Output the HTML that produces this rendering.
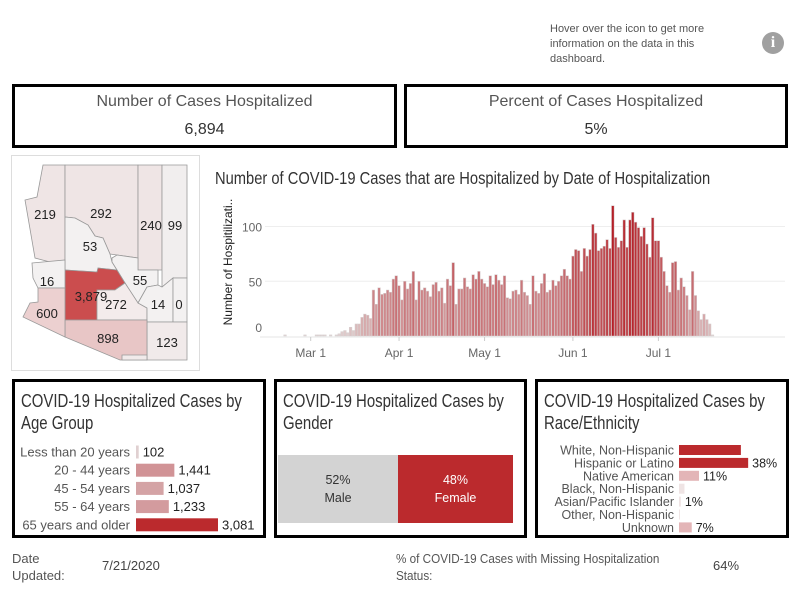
<!DOCTYPE html>
<html><head><meta charset="utf-8">
<style>
*{box-sizing:border-box;margin:0;padding:0}
body{width:800px;height:600px;background:#fff;font-family:"Liberation Sans",sans-serif;color:#333;position:relative;overflow:hidden}
.abs{position:absolute}
.box{position:absolute;border:3px solid #000}
.kt{position:absolute;left:0;right:0;text-align:center;font-size:16px;color:#555}
.pt{position:absolute;left:6px;top:8px;font-size:18px;line-height:22px;color:#333;white-space:nowrap;transform:scaleX(0.83);transform-origin:left top}
</style></head><body>
<div class="abs" style="left:550px;top:22px;width:180px;font-size:11px;line-height:15px;color:#555">Hover over the icon to get more information on the data in this dashboard.</div>
<div class="abs" style="left:762px;top:32px;width:22px;height:22px;border-radius:50%;background:#a0a0a0;color:#fff;font:bold 16px 'Liberation Serif',serif;text-align:center;line-height:22px">i</div>

<div class="box" style="left:12px;top:84px;width:385px;height:64px">
<div class="kt" style="top:6px">Number of Cases Hospitalized</div>
<div class="kt" style="top:34px;color:#333">6,894</div></div>
<div class="box" style="left:404px;top:84px;width:384px;height:64px">
<div class="kt" style="top:6px">Percent of Cases Hospitalized</div>
<div class="kt" style="top:34px;color:#333">5%</div></div>

<svg class="abs" style="left:11px;top:155px" width="189" height="216" viewBox="11 155 189 216">
<rect x="11.5" y="155.5" width="188" height="215" fill="none" stroke="#ddd"/>
<g stroke="#999" stroke-width="0.8" font-family="Liberation Sans,sans-serif" font-size="13" fill="#222">
<polygon points="43,165 65,165 65,261 50,262 35,258 25,200 37,197" fill="#efe5e5"/>
<polygon points="65,165 138,165 138,258 117,255 110,254 103,238 95,236 88,225 75,218 65,217" fill="#efe5e5"/>
<polygon points="65,217 75,218 88,225 95,236 103,238 110,254 112,262 117,270 98,268 97,272 65,270" fill="#f3f1f1"/>
<polygon points="138,165 162,165 162,270 138,270" fill="#efe5e5"/>
<polygon points="162,165 187,165 187,278 173,278 162,287" fill="#f1eeee"/>
<polygon points="112,258 117,255 138,258 138,270 158,270 158,285 147,287 138,303 125,283 117,270 112,262" fill="#f3f1f1"/>
<polygon points="65,270 97,272 98,268 117,270 125,283 115,290 97,290 97,320 65,320" fill="#cb4d4e"/>
<polygon points="97,290 115,290 125,283 138,303 147,308 147,320 97,320" fill="#f3ebeb"/>
<polygon points="147,287 158,285 162,287 173,278 173,322 147,322 147,308 138,303" fill="#f3f1f1"/>
<polygon points="173,278 187,278 187,322 173,322" fill="#f3f1f1"/>
<polygon points="147,322 187,322 187,360 147,360" fill="#f1eaea"/>
<polygon points="65,320 147,320 147,360 120,360 65,337" fill="#e8c6c6"/>
<polygon points="122,355 147,355 147,360 122,360" fill="#f1eaea"/>
<polygon points="32,263 65,260 65,288 38,288 33,278" fill="#f3f1f1"/>
<polygon points="38,288 65,288 65,337 23,317 30,303 38,302" fill="#ecd0d0"/>
<g stroke="none">
<text x="45" y="219" text-anchor="middle">219</text><text x="101" y="218" text-anchor="middle">292</text>
<text x="90" y="251" text-anchor="middle">53</text><text x="151" y="230" text-anchor="middle">240</text>
<text x="175" y="230" text-anchor="middle">99</text><text x="140" y="285" text-anchor="middle">55</text>
<text x="47" y="286" text-anchor="middle">16</text><text x="91" y="301" text-anchor="middle">3,879</text>
<text x="116" y="309" text-anchor="middle">272</text><text x="158" y="309" text-anchor="middle">14</text>
<text x="179" y="309" text-anchor="middle">0</text><text x="47" y="318" text-anchor="middle">600</text>
<text x="108" y="343" text-anchor="middle">898</text><text x="167" y="347" text-anchor="middle">123</text>
</g></g></svg>

<div class="abs" style="left:215px;top:168px;font-size:17.5px;color:#333;white-space:nowrap;transform:scaleX(0.84);transform-origin:left top">Number of COVID-19 Cases that are Hospitalized by Date of Hospitalization</div>
<svg class="abs" id="dc" style="left:210px;top:195px" width="580" height="175"></svg>

<div class="box" style="left:12px;top:379px;width:254px;height:159px"><div class="pt">COVID-19 Hospitalized Cases by<br>Age Group</div></div>
<div class="box" style="left:274px;top:379px;width:253px;height:159px"><div class="pt">COVID-19 Hospitalized Cases by<br>Gender</div>
<div class="abs" style="left:1px;top:73px;width:120px;height:68px;background:#d3d3d3;text-align:center;font-size:12.5px;line-height:18px;padding-top:16px;color:#333">52%<br>Male</div>
<div class="abs" style="left:121px;top:73px;width:115px;height:68px;background:#bb2a2d;text-align:center;font-size:12.5px;line-height:18px;padding-top:16px;color:#fff">48%<br>Female</div></div>
<div class="box" style="left:535px;top:379px;width:254px;height:159px"><div class="pt">COVID-19 Hospitalized Cases by<br>Race/Ethnicity</div></div>
<svg class="abs" id="ac" style="left:15px;top:440px" width="248" height="95"></svg>
<svg class="abs" id="rc" style="left:538px;top:440px" width="248" height="95"></svg>

<div class="abs" style="left:12px;top:550px;font-size:13px;line-height:17px;color:#555">Date<br>Updated:</div>
<div class="abs" style="left:102px;top:558px;font-size:13px;color:#444">7/21/2020</div>
<div class="abs" style="left:396px;top:550px;font-size:13px;line-height:17px;color:#555;white-space:nowrap;transform:scaleX(0.9);transform-origin:left top">% of COVID-19 Cases with Missing Hospitalization<br>Status:</div>
<div class="abs" style="left:713px;top:558px;font-size:13px;color:#444">64%</div>

<script>
const NS="http://www.w3.org/2000/svg";
function mk(p,t,a){const e=document.createElementNS(NS,t);for(const k in a)e.setAttribute(k,a[k]);p.appendChild(e);return e;}
// ---- date chart data ----
const startDate="2020-02-21";
const dailyValues=[1,0,0,0,0,0,0,1,0,0,0,1,1,1,1,0,1,0,1,
2,4,5,3,8,5,11,11,17,20,19,16,42,29,44,38,39,42,40,52,55,46,33,50,43,48,59,33,50,42,44,41,36,47,49,41,44,30,52,46,67,29,43,43,53,45,43,56,52,59,52,48,45,55,47,56,51,47,55,35,34,41,42,38,51,40,37,29,55,41,39,48,57,40,42,51,46,50,55,61,55,52,73,79,78,59,80,73,79,102,94,78,80,82,88,80,119,90,81,87,106,81,106,113,104,99,91,99,84,72,108,87,87,72,59,46,40,67,68,42,53,45,37,24,59,37,23,15,20,15,11,1];
const yTicks=[0,50,100];
const xTickLabels=["Mar 1","Apr 1","May 1","Jun 1","Jul 1"];
const xTickDates=["2020-03-01","2020-04-01","2020-05-01","2020-06-01","2020-07-01"];
const dc=document.getElementById('dc');
const DAY=86400000, t0=Date.parse("2020-03-01");
const xS=d=>100.7+(Date.parse(d)-t0)/DAY*2.85;
const yS=v=>141-v*1.095;
function col(v){const t=Math.pow(Math.min(1,v/120),0.75);const a=[226,218,218],b=[180,30,38];return `rgb(${a.map((c,i)=>Math.round(c+(b[i]-c)*t)).join(',')})`;}
yTicks.forEach(v=>{
  if(v>0){const g=mk(dc,'line',{x1:55,x2:575,y1:yS(v),y2:yS(v),stroke:'#eee'});
  }
  const t=mk(dc,'text',{x:52,y:v===0?yS(v)-4:yS(v)+5,'text-anchor':'end','font-size':12,fill:'#666'});
  t.textContent=v;
  
});
const s0=Date.parse(startDate);
dailyValues.forEach((v,i)=>{
  if(v===0)return;
  const d=new Date(s0+i*DAY).toISOString().slice(0,10);
  const x=xS(d)-1.3,h=v*1.095;
  const r=mk(dc,'rect',{x:x,y:yS(v),width:2.6,height:h,fill:col(v),stroke:'#d6cfcf','stroke-width':0.5});
  
});
const ax=mk(dc,'line',{x1:50,x2:575,y1:142,y2:142,stroke:'#e4e4e4'});

xTickLabels.forEach((l,i)=>{
  const x=xS(xTickDates[i]);
  const tk=mk(dc,'line',{x1:x,x2:x,y1:142,y2:146,stroke:'#ccc'});
  
  const t=mk(dc,'text',{x:x,y:162,'text-anchor':'middle','font-size':12,fill:'#666'});
  t.textContent=l;
  
});
const yt=mk(dc,'text',{x:0,y:0,transform:'translate(22,67) rotate(-90)','text-anchor':'middle','font-size':12,fill:'#222'});
yt.textContent="Number of Hospitilizati..";


// ---- age chart ----
const ageGroups=["Less than 20 years","20 - 44 years","45 - 54 years","55 - 64 years","65 years and older"];
const ageValues=[102,1441,1037,1233,3081];
const ageLabels=["102","1,441","1,037","1,233","3,081"];
const ac=document.getElementById('ac');
const ageMax=Math.max(...ageValues);
ageGroups.forEach((g,i)=>{
  const y=12+i*18.2, w=ageValues[i]/ageMax*82;
  const t=mk(ac,'text',{x:115,y:y+4.5,'text-anchor':'end','font-size':13,fill:'#555',textLength:0});t.removeAttribute('textLength');t.textContent=g;
  
  const r=mk(ac,'rect',{x:121,y:y-6.5,width:w,height:13,fill:i===4?'#bb2a2d':col(ageValues[i]/ageMax*70)});
  
  const v=mk(ac,'text',{x:121+w+4,y:y+4.5,'font-size':13,fill:'#222'});v.textContent=ageLabels[i];
  
});
// ---- race chart ----
const raceGroups=["White, Non-Hispanic","Hispanic or Latino","Native American","Black, Non-Hispanic","Asian/Pacific Islander","Other, Non-Hispanic","Unknown"];
const raceValues=[34,38,11,3,1,0.5,7];
const raceLabels=["","38%","11%","","1%","","7%"];
const rc=document.getElementById('rc');
raceGroups.forEach((g,i)=>{
  const y=10+i*12.9, w=raceValues[i]*1.82;
  const t=mk(rc,'text',{x:136,y:y+4.5,'text-anchor':'end','font-size':12.5,fill:'#555'});t.textContent=g;
  
  const r=mk(rc,'rect',{x:141,y:y-5,width:w,height:10,fill:raceValues[i]>30?'#bb2a2d':(raceValues[i]>5?'#e3b5b7':'#efe4e4')});
  
  if(raceLabels[i]){const v=mk(rc,'text',{x:141+w+4,y:y+4.5,'font-size':12.5,fill:'#222'});v.textContent=raceLabels[i];
  }
});
</script>
</body></html>
